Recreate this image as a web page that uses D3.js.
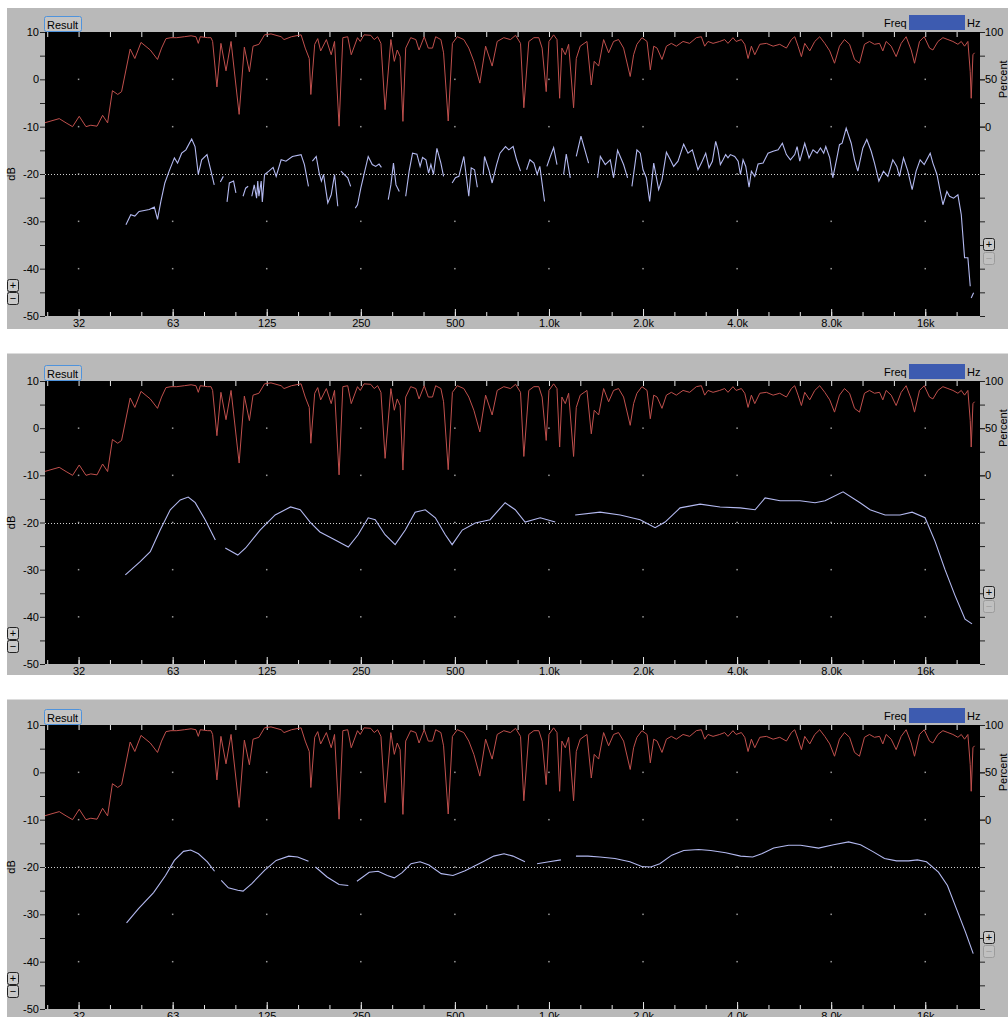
<!DOCTYPE html>
<html>
<head>
<script src="https://d3js.org/d3.v7.min.js"></script>
<style>
  body{ margin:0; background:#fff; }
  svg text{ font-family:"Liberation Sans", Arial, sans-serif; font-size:11px; fill:#000; }
</style>
</head>
<body>
<svg id="chart" width="1008" height="1017"></svg>
<script>
// axis labels
const freqTicks = [31.25, 62.5, 125, 250, 500, 1000, 2000, 4000, 8000, 16000];
const freqLabels = ["32", "63", "125", "250", "500", "1.0k", "2.0k", "4.0k", "8.0k", "16k"];
const dbTicks = [10, 0, -10, -20, -30, -40, -50];
const pctTicks = [100, 50, 0];

// coherence (percent) - same trace in all three views
const coherence = [
  [24.3,4],[25.5,6],[27.1,8.5],[28.5,4],[29.9,0],[31.4,11],[33.0,0],[34.2,1.5],[35.8,0.5],[37.3,12],
  [38.7,4],[40.1,38],[41.7,34],[42.9,37],[45.7,82],[47.3,72],[49.5,89],[53.0,81],[55.9,71],[57.6,83],
  [59.5,93],[61.7,94],[64.4,94],[68.1,95],[71.6,96],[74.2,95],[75.5,88],[76.6,95],[80.9,94],[82.9,94],
  [83.9,90],[86.6,42],[89.2,88],[92.6,59],[96.1,90],[102,13],[106,84],[110,58],[113,85],[118,87],
  [123,97],[129,98],[139,95],[142,92],[150,95],[161,97],[166,83],[171,72],[173,34],[178,87],
  [182,93],[186,80],[194,92],[201,76],[206,90],[213,0.5],[219,94],[227,95],[233,76],[244,94],[249,90],
  [256,97],[269,96.5],[276,92],[283,95],[290,88],[299,18],[312,92],[320,69],[327,81],[334,74],
  [341,5.6],[348,83],[361,94],[375,92],[384,81],[399,95],[411,83],[424,83],[434,95],[451,92],
  [460,78],[476,6],[491,88],[509,95],[534,92],[554,83],[575,69],[601,46],[627,85],[658,64],
  [683,90],[717,94],[753,92],[782,96.5],[811,88],[831,20],[862,90],[895,94],[928,94],[951,83],
  [980,37],[1000,90],[1035,97],[1061,92],[1082,30],[1100,83],[1128,76],[1156,87],[1199,20],[1223,72],
  [1259,85],[1323,90],[1366,44],[1396,69],[1442,64],[1496,92],[1552,78],[1610,90],[1670,92],[1733,83],
  [1820,53],[1866,76],[1912,87],[1984,94],[2060,90],[2110,60],[2164,85],[2218,83],[2300,71],
  [2376,85],[2464,88],[2556,85],[2686,90],[2820,88],[2962,94],[3074,95],[3150,85],[3228,90],[3350,88],
  [3518,90],[3650,92],[3740,88],[3880,94],[3970,90],[4128,92],[4232,87],[4336,72],[4444,85],[4556,76],
  [4728,87],[4964,88],[5216,85],[5476,87],[5752,83],[5968,92],[6116,95],[6268,85],[6424,74],[6584,88],
  [6832,80],[7088,90],[7352,95],[7632,88],[7916,80],[8200,67],[8504,85],[8824,92],[9160,87],[9504,71],
  [9856,67],[10224,87],[10608,90],[11008,87],[11424,88],[11704,80],[11992,90],[12448,85],[12912,74],[13400,88],
  [13896,95],[14424,81],[14784,67],[15336,90],[15880,95],[16512,83],[16928,81],[17568,90],[18224,94],[18912,92],
  [19616,90],[20352,87],[20864,90],[21376,85],[21904,90],[22288,58],[22448,30],[22736,76],[23008,78]
];

// magnitude (dB), unsmoothed - null = gap
const magRaw = [
  [44.3,-30.7],[45.9,-28.6],[47.3,-28.9],[48.8,-27.9],[50.7,-27.7],[52.6,-27.5],[54.6,-27.0],[55.9,-29.6],[57.3,-25.8],[59.0,-21.9],
  [60.9,-19.4],[63.3,-16.6],[64.8,-17.7],[66.8,-15.6],[68.9,-14.9],[71.9,-12.6],[73.7,-14.2],[75.5,-20.1],[77.4,-17.0],[80.5,-15.9],
  [82.9,-19.4],[84.9,-22.3],[86.5,null],[88.8,-21.7],[90.8,-20.5],[92,null],[93.3,-25.9],[94.9,-21.9],[97.9,-21.5],[99.6,-24.0],
  [102,null],[105,-24.7],[107,-23.0],[109,-22.6],[110.5,null],[112,-24.7],[114,-22.3],[116,-25.1],[117,-21.5],[118,-24.7],
  [120,-21.5],[121,-25.9],[123,-20.1],[127,-19.4],[131,-18.6],[134,-20.5],[139,-17.0],[144,-17.3],[151,-16.3],[161,-15.9],
  [165,-18.0],[170,-22.6],[172,null],[175,-17.3],[180,-16.3],[184,-19.8],[187,-21.5],[190,-20.1],[196,-26.1],[201,-24.4],
  [206,-20.1],[211,-26.8],[213,null],[216,-19.4],[221,-20.1],[227,-20.8],[232,-22.6],[236,null],[240,-27.2],[244,-26.5],
  [250,-23.0],[256,-20.1],[264,-16.3],[272,-18.0],[279,-18.4],[286,-17.9],[291,-18.6],[298,null],[306,-25.4],[312,-22.3],
  [318,-17.7],[324,-22.3],[332,-23.7],[340,null],[348,-24.7],[357,-19.4],[366,-15.6],[378,-15.8],[387,-18.4],[394,-16.5],
  [404,-17.0],[412,-19.8],[419,-18.0],[427,-20.1],[438,-14.6],[451,-17.7],[460,-20.5],[475,null],[490,-21.9],[502,-20.8],
  [515,-20.5],[534,-16.3],[554,-24.7],[564,-18.7],[578,-19.1],[590,-22.8],[603,null],[616,-20.1],[622,-16.3],[642,-19.1],
  [658,-21.9],[680,-18.0],[697,-15.6],[726,-14.2],[744,-14.9],[768,-14.2],[788,-17.0],[811,-19.4],[830,null],[848,-19.1],
  [869,-17.0],[895,-17.7],[917,-20.1],[935,-18.4],[968,-25.8],[976,null],[985,-18.4],[1010,-16.3],[1035,-14.4],[1061,-18.0],
  [1090,null],[1114,-20.1],[1136,-15.8],[1170,-20.8],[1200,null],[1223,-16.3],[1266,-12.0],[1339,-17.7],[1390,null],[1431,-20.8],
  [1460,-16.3],[1514,-18.0],[1571,-17.0],[1610,-20.8],[1658,-15.0],[1733,-18.0],[1785,-20.8],[1815,null],[1843,-22.6],[1912,-14.9],
  [1960,-15.6],[2000,-19.1],[2050,-20.8],[2100,-25.8],[2164,-17.7],[2244,-23.3],[2300,-21.2],[2376,-15.4],[2446,-17.0],[2506,-18.4],
  [2588,-17.3],[2698,-13.7],[2786,-15.6],[2876,-14.9],[2998,-19.1],[3074,-17.7],[3174,-15.6],[3252,-18.7],[3334,-17.3],[3416,-13.1],
  [3474,-14.9],[3536,-18.0],[3606,-17.0],[3676,-15.9],[3740,-16.6],[3806,-15.9],[3930,-16.3],[4030,-17.3],[4100,-20.1],[4180,-17.0],
  [4264,-18.4],[4368,-22.8],[4444,-19.4],[4556,-20.5],[4668,-17.9],[4844,-17.7],[5024,-15.6],[5216,-15.2],[5412,-14.9],[5584,-13.5],
  [5752,-15.9],[5924,-17.0],[6116,-15.9],[6224,-14.2],[6348,-17.3],[6584,-13.5],[6796,-16.6],[7000,-14.9],[7212,-15.6],[7392,-14.5],
  [7572,-15.6],[7688,-14.2],[7916,-16.6],[8096,-20.8],[8344,-16.6],[8504,-13.8],[8672,-13.5],[8936,-10.3],[9272,-13.5],[9504,-17.0],
  [9736,-19.4],[10104,-14.5],[10400,-12.7],[10744,-15.2],[11008,-17.7],[11368,-21.5],[11760,-19.4],[12144,-20.5],[12600,-17.0],[12976,-18.4],
  [13232,-20.5],[13632,-16.6],[14072,-19.4],[14528,-23.3],[14960,-19.4],[15408,-17.0],[15880,-18.0],[16592,-15.6],[16928,-17.7],[17440,-20.1],
  [17872,-23.7],[18224,-26.5],[18768,-23.7],[19136,-24.7],[19712,-25.1],[20352,-24.4],[20864,-28.6],[21376,-37.7],[21904,-37.7],[22288,-43.7],
  [22370,null],[22448,-46.2],[22848,-45.1]
];

// magnitude (dB), light smoothing
const magSmooth1 = [
  [44.1,-31.1],[49.2,-28.3],[53.0,-26.2],[57.0,-21.6],[61.4,-17.3],[66.1,-15.2],[70.1,-14.6],[73.8,-15.8],[79.4,-19.4],[85.6,-23.7],
  [88,null],[92.1,-25.4],[101,-26.9],[107,-25.4],[119,-21.6],[133,-18.4],[149,-16.7],[160,-17.3],[172,-19.9],[185,-22.0],
  [207,-23.7],[228,-25.2],[245,-22.6],[264,-19.0],[278,-19.4],[299,-22.6],[322,-24.7],[347,-21.6],[373,-17.8],[402,-17.3],
  [433,-19.0],[466,-22.6],[490,-24.7],[528,-21.6],[581,-20.1],[648,-19.4],[724,-15.8],[780,-17.3],[839,-19.9],[938,-19.0],
  [1047,-19.9],[1120,null],[1213,-18.4],[1458,-17.8],[1690,-18.4],[1958,-19.4],[2186,-21.1],[2353,-19.9],[2628,-16.9],[3046,-16.1],
  [3528,-16.7],[4091,-16.9],[4566,-17.3],[4916,-14.8],[5491,-15.4],[6359,-15.4],[7103,-15.8],[7647,-15.4],[8731,-13.5],[9897,-15.8],
  [10653,-17.3],[11900,-18.4],[13288,-18.4],[14522,-17.8],[15978,-19.0],[17197,-24.0],[18509,-30.0],[19931,-35.5],[21453,-40.5],[22581,-41.5]
];

// magnitude (dB), heavy smoothing
const magSmooth2 = [
  [44.5,-31.8],[48.6,-28.8],[54.3,-25.4],[59.3,-21.8],[63.3,-18.6],[67.7,-16.7],[71.4,-16.4],[75.6,-17.2],[80.7,-18.9],[85.1,-20.9],
  [87,null],[89.4,-22.8],[94.2,-24.4],[101,-24.9],[105,-25.1],[112,-23.5],[123,-20.7],[134,-18.6],[147,-17.7],[157,-17.9],
  [170,-18.8],[175,null],[179,-20.0],[195,-22.1],[213,-23.7],[228,-23.9],[235,null],[243,-23.0],[266,-21.1],[284,-20.9],
  [304,-21.8],[320,-22.3],[339,-21.2],[362,-19.3],[387,-18.9],[413,-19.6],[452,-21.4],[493,-21.8],[539,-20.8],[615,-18.9],
  [666,-17.7],[718,-17.2],[767,-17.7],[838,-18.9],[870,null],[916,-19.3],[1000,-18.9],[1092,-18.5],[1150,null],[1220,-17.7],
  [1333,-17.7],[1455,-17.9],[1626,-18.2],[1815,-18.9],[1982,-19.9],[2118,-20.0],[2263,-19.3],[2472,-17.5],[2700,-16.5],[3015,-16.3],
  [3294,-16.5],[3678,-17.0],[4106,-17.7],[4488,-17.9],[4794,-17.2],[5238,-16.0],[5847,-15.4],[6388,-15.4],[7291,-16.0],[8141,-15.3],
  [9094,-14.7],[9931,-15.3],[10847,-16.7],[11853,-18.2],[12944,-18.7],[14141,-18.7],[15103,-18.5],[16147,-18.9],[17634,-21.1],[18844,-23.9],
  [20125,-28.8],[21509,-33.7],[22781,-38.3]
];

const svg = d3.select("#chart");
const W = 1008;
const plotLeft = 45, plotRight = 980;

const panels = [
  { bgTop: 8,   bgBottom: 329,  top: 32,  bottom: 316,  mag: magRaw },
  { bgTop: 353, bgBottom: 675,  top: 381, bottom: 664,  mag: magSmooth1 },
  { bgTop: 699, bgBottom: 1017, top: 725, bottom: 1009, mag: magSmooth2 }
];

const x = d3.scaleLog().domain([24.4, 23950]).range([plotLeft, plotRight]);

// third octave ticks
const thirdTicks = d3.range(-1, 29).map(k => 31.25 * Math.pow(2, k / 3)).filter(f => f > 24.4 && f < 23950);

panels.forEach((p, i) => drawPanel(p, i));

function styleAxis(sel, color){
  sel.select(".domain").remove();
  sel.selectAll(".tick line").attr("stroke", color);
  sel.selectAll("text")
    .attr("font-family", '"Liberation Sans", Arial, sans-serif')
    .attr("font-size", 11)
    .attr("fill", "#000");
}

function drawPanel(p, i){
  const g = svg.append("g");
  const y = d3.scaleLinear().domain([-50, 10]).range([p.bottom, p.top]);
  const yPct = d3.scaleLinear().domain([0, 100]).range([y(-10), y(10)]);

  g.append("rect")
    .attr("x", 7).attr("y", p.bgTop)
    .attr("width", W - 7).attr("height", p.bgBottom - p.bgTop)
    .attr("fill", "#b9b9b9");
  if (i > 0) {
    g.append("line")
      .attr("x1", 7).attr("x2", W).attr("y1", p.bgTop + 0.5).attr("y2", p.bgTop + 0.5)
      .attr("stroke", "#dcdcdc");
  }

  g.append("rect")
    .attr("x", plotLeft).attr("y", p.top)
    .attr("width", plotRight - plotLeft).attr("height", p.bottom - p.top)
    .attr("fill", "#000");

  // grid dots
  const gridDb = [0, -10, -20, -30, -40];
  freqTicks.forEach(f => {
    gridDb.forEach(d => {
      g.append("rect")
        .attr("x", x(f) - 0.75).attr("y", y(d) - 0.75)
        .attr("width", 1.5).attr("height", 1.5)
        .attr("fill", "#9a9a9a");
    });
  });

  // -20 dB reference
  g.append("line")
    .attr("x1", plotLeft).attr("x2", plotRight)
    .attr("y1", Math.round(y(-20)) + 0.5).attr("y2", Math.round(y(-20)) + 0.5)
    .attr("stroke", "#d0d0d0")
    .attr("stroke-dasharray", "1,2");

  // axes
  g.append("g")
    .attr("transform", "translate(" + plotLeft + ",0)")
    .call(d3.axisLeft(y).tickValues(d3.range(-50, 11, 5)).tickFormat(d => dbTicks.includes(d) ? d : "").tickSize(5).tickPadding(1))
    .call(s => styleAxis(s, "#222"));

  g.append("g")
    .attr("transform", "translate(" + plotRight + ",0)")
    .call(d3.axisRight(y).tickValues(d3.range(-50, 11, 5)).tickFormat("").tickSize(5))
    .call(s => styleAxis(s, "#222"));

  g.append("g")
    .attr("transform", "translate(" + plotRight + ",0)")
    .call(d3.axisRight(yPct).tickValues(pctTicks).tickSize(5).tickPadding(0))
    .call(s => styleAxis(s, "#222"));

  g.append("g")
    .attr("transform", "translate(0," + p.bottom + ")")
    .call(d3.axisBottom(x).tickValues(thirdTicks).tickFormat("").tickSize(-4))
    .call(s => styleAxis(s, "#e6e6e6"));

  g.append("g")
    .attr("transform", "translate(0," + p.bottom + ")")
    .call(d3.axisBottom(x).tickValues(freqTicks).tickFormat((d, k) => freqLabels[k]).tickSize(-7).tickPadding(3))
    .call(s => styleAxis(s, "#e6e6e6"));

  g.append("g")
    .attr("transform", "translate(0," + p.top + ")")
    .call(d3.axisTop(x).tickValues(thirdTicks).tickFormat("").tickSize(-5))
    .call(s => styleAxis(s, "#e6e6e6"));

  // axis titles
  g.append("text")
    .attr("transform", "translate(15," + y(-20) + ") rotate(-90)")
    .attr("text-anchor", "middle")
    .text("dB");
  g.append("text")
    .attr("transform", "translate(1007," + y(0) + ") rotate(-90)")
    .attr("text-anchor", "middle")
    .text("Percent");

  // traces
  g.append("clipPath").attr("id", "clip" + i)
    .append("rect")
    .attr("x", plotLeft).attr("y", p.top)
    .attr("width", plotRight - plotLeft).attr("height", p.bottom - p.top);

  const cohLine = d3.line()
    .x(d => x(d[0]))
    .y(d => yPct(d[1]));
  const magLine = d3.line()
    .defined(d => d[1] !== null)
    .x(d => x(d[0]))
    .y(d => y(d[1]));

  g.append("path")
    .datum(coherence)
    .attr("clip-path", "url(#clip" + i + ")")
    .attr("fill", "none")
    .attr("stroke", "#c0504d")
    .attr("stroke-width", 1)
    .attr("d", cohLine);

  g.append("path")
    .datum(p.mag)
    .attr("clip-path", "url(#clip" + i + ")")
    .attr("fill", "none")
    .attr("stroke", "#b3b9f0")
    .attr("stroke-width", 1.1)
    .attr("d", magLine);

  // Result tab
  g.append("rect")
    .attr("x", 44.5).attr("y", p.top - 15.5)
    .attr("width", 37).attr("height", 15)
    .attr("rx", 2)
    .attr("fill", "#c4c4c4")
    .attr("stroke", "#4f93dc");
  g.append("text")
    .attr("x", 47).attr("y", p.top - 3.5)
    .text("Result");

  // Freq box
  g.append("text")
    .attr("x", 884).attr("y", p.top - 5)
    .text("Freq");
  g.append("rect")
    .attr("x", 909).attr("y", p.top - 17)
    .attr("width", 56).attr("height", 15)
    .attr("fill", "#3d5bb0");
  g.append("text")
    .attr("x", 967).attr("y", p.top - 5)
    .text("Hz");

  // zoom buttons (stacked: + above -)
  const btn = (bx, by, label, active) => {
    g.append("rect")
      .attr("x", bx + 0.5).attr("y", by + 0.5)
      .attr("width", 11).attr("height", 12)
      .attr("rx", 2)
      .attr("fill", active ? "#c8c8c8" : "#c0c0c0")
      .attr("stroke", active ? "#222" : "#9c9c9c");
    g.append("text")
      .attr("x", bx + 6).attr("y", by + 10)
      .attr("text-anchor", "middle")
      .style("fill", active ? "#000" : "#a0a0a0")
      .text(label);
  };
  btn(7, p.bottom - 37, "+", true);
  btn(7, p.bottom - 24, "\u2212", true);
  btn(983, p.bottom - 78, "+", true);
  btn(983, p.bottom - 64, "\u2212", false);
}
</script>
</body>
</html>
